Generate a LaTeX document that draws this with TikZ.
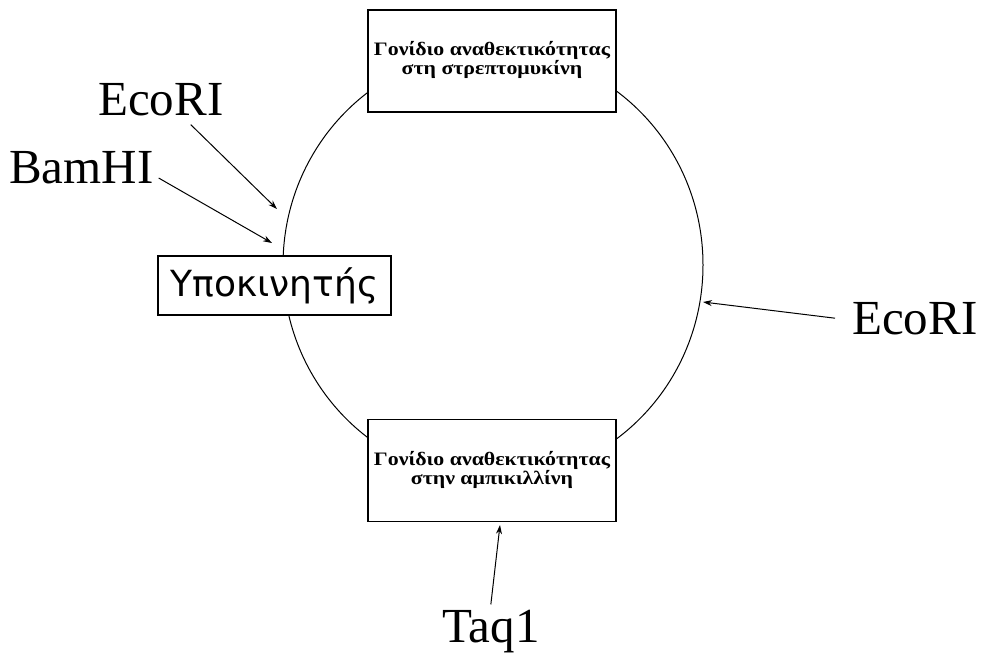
\documentclass[tikz,border=0pt]{standalone}
\usepackage{fontspec}
\setmainfont{Liberation Serif}
\newfontfamily\promfont{DejaVu Sans}
\usetikzlibrary{arrows.meta}
\begin{document}
\begin{tikzpicture}[x=1pt,y=-1pt,
  genebox/.style={draw,line width=1.3pt,fill=white,minimum width=248pt,minimum height=102pt,inner sep=0pt,align=center,font=\fontsize{19}{20}\selectfont\bfseries},
  enzyme/.style={inner sep=0pt,anchor=base west,font=\fontsize{49}{49}\selectfont},
  cut/.style={line width=1pt,-{Stealth[length=9pt,width=6pt]}}]
\useasboundingbox (0,0) rectangle (984,654);
% plasmid circle
\draw[line width=1pt] (493,265) ellipse [x radius=210, y radius=215];
% boxes
\node[genebox] (strep) at (492,61) {\scalebox{1.15}[1]{\begin{tabular}{@{}c@{}}Γονίδιο αναθεκτικότητας\\[-1pt]στη στρεπτομυκίνη\end{tabular}}};
\node[genebox] (amp) at (492,470.5) {\scalebox{1.15}[1]{\begin{tabular}{@{}c@{}}Γονίδιο αναθεκτικότητας\\[-1pt]στην αμπικιλλίνη\end{tabular}}};
\node[draw,line width=1.3pt,fill=white,minimum width=233pt,minimum height=59pt,inner sep=0pt,font=\promfont\fontsize{36}{36}\selectfont] (prom) at (274.5,285.5) {Υποκινητής};
% enzyme labels
\node[enzyme] (eco1) at (98,115) {EcoRI};
\node[enzyme] (bam) at (9,183) {BamHI};
\node[enzyme] (eco2) at (852,334) {EcoRI};
\node[enzyme] (taq) at (442,642) {Taq1};
% cut sites
\coordinate (c1) at (277,209);
\coordinate (c2) at (272,243);
\coordinate (c3) at (703,302);
\coordinate (c4) at (500,525);
\draw[cut] ([shift={(30,9)}]eco1.south) -- (c1);
\draw[cut] ([shift={(5,-5)}]bam.base east) -- (c2);
\draw[cut] ([xshift=-17pt]eco2.west) -- (c3);
\draw[cut] ([yshift=5pt]taq.north) -- (c4);
\end{tikzpicture}
\end{document}
